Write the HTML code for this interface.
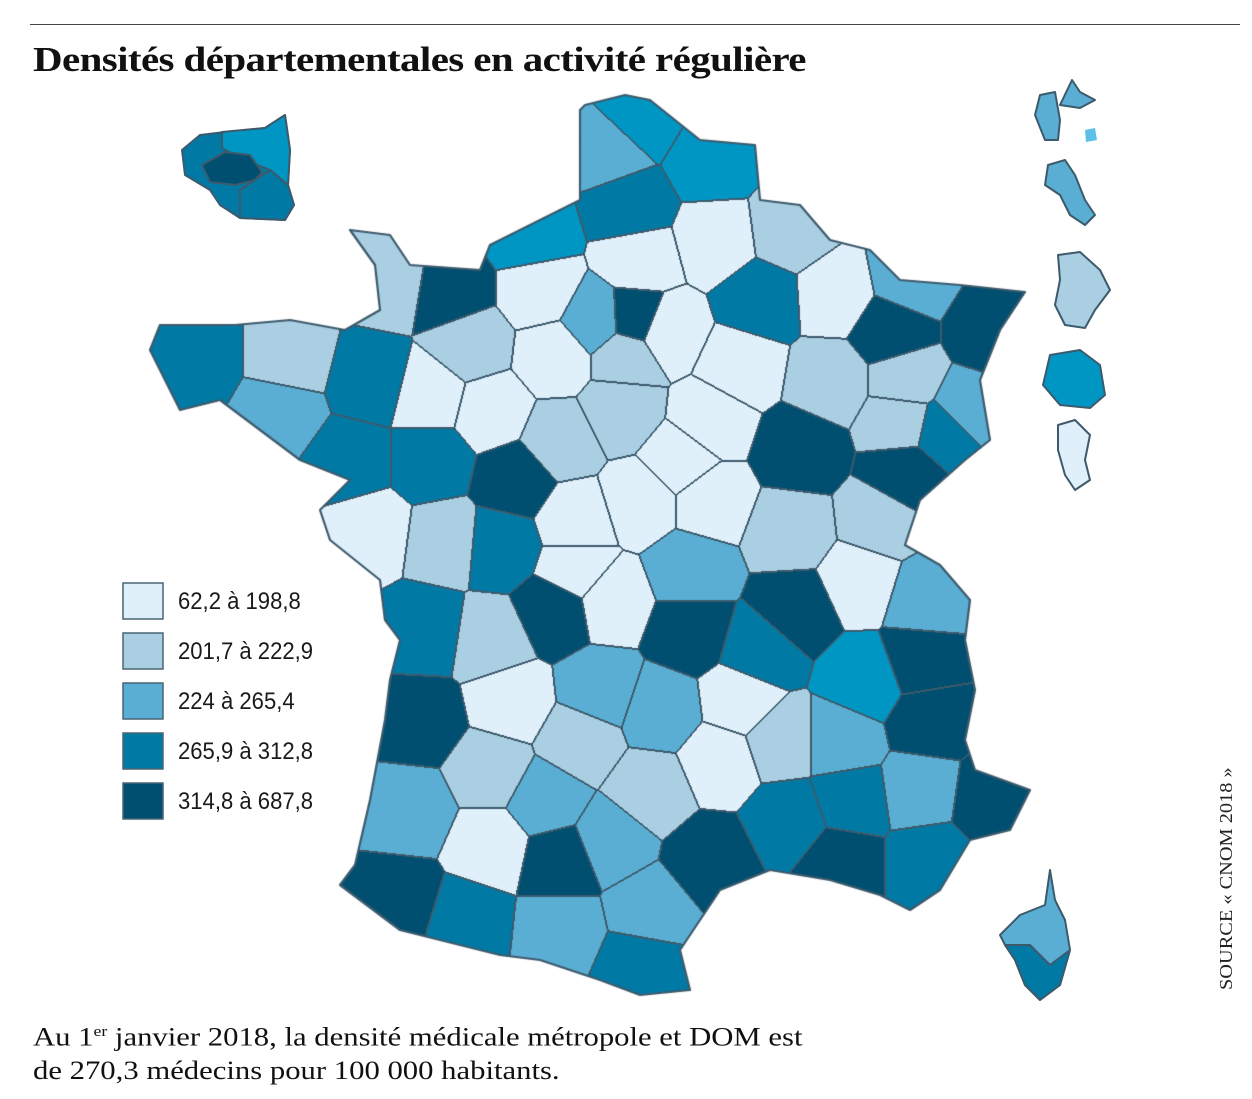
<!DOCTYPE html>
<html><head><meta charset="utf-8"><style>
html,body{margin:0;padding:0;background:#fff;}
body{width:1252px;height:1099px;position:relative;overflow:hidden;}
.rule{position:absolute;left:30px;top:24px;width:1210px;height:1px;background:#444;}
.title{position:absolute;left:33px;top:40px;font-family:"Liberation Serif",serif;font-weight:bold;font-size:35px;color:#111;letter-spacing:-0.5px;transform:scaleX(1.17);transform-origin:0 0;white-space:nowrap;}
.foot{position:absolute;left:33px;top:1016px;font-family:"Liberation Serif",serif;font-size:26px;line-height:33px;color:#111;transform:scaleX(1.18);transform-origin:0 0;white-space:nowrap;}
.src{position:absolute;left:1216px;top:990px;transform:rotate(-90deg) scaleX(1.13);transform-origin:0 0;font-family:"Liberation Serif",serif;font-size:18px;color:#222;white-space:nowrap;}
.lt{position:absolute;left:178px;font-family:"Liberation Sans",sans-serif;font-size:24px;color:#1a1a1a;transform:scaleX(0.92);transform-origin:0 0;white-space:nowrap;}
canvas,svg{position:absolute;left:0;top:0;}
</style></head><body>
<div class="rule"></div>
<div class="title">Densités départementales en activité régulière</div>
<canvas id="c" width="1252" height="1099"></canvas>
<svg width="1252" height="1099" viewBox="0 0 1252 1099">
<g stroke="#3d5a6c" stroke-width="2" stroke-linejoin="round">
<path d="M225,132 L265,128 L285,115 L290,150 L288,185 L294,205 L285,220 L240,218 L220,205 L210,190 L185,175 L182,150 L200,135 Z" fill="#007aa5"/>
<path d="M222,132 L265,128 L285,115 L290,150 L288,185 L270,170 L240,158 L222,148 Z" fill="#0096c3"/>
<path d="M240,190 L270,170 L288,185 L294,205 L285,220 L240,218 Z" fill="#007aa5"/>
<path d="M202,165 L225,152 L250,155 L262,172 L255,180 L235,185 L210,182 Z" fill="#004f70"/>
<path d="M1050,870 L1055,900 L1065,920 L1070,950 L1060,985 L1040,1000 L1025,985 L1015,960 L1005,945 L1000,935 L1020,915 L1045,905 Z" fill="#5aaed3"/>
<path d="M1005,945 L1030,945 L1050,965 L1070,950 L1060,985 L1040,1000 L1025,985 L1015,960 Z" fill="#007aa5"/>
<path d="M1040,95 L1055,92 L1060,120 L1058,140 L1045,140 L1035,115 Z M1060,105 L1072,80 L1080,92 L1095,100 L1080,108 Z" fill="#5aaed3"/>
<path d="M1085,130 L1095,128 L1097,140 L1086,142 Z" fill="#5bc0e8" stroke="none"/>
<path d="M1048,165 L1065,160 L1075,175 L1085,200 L1095,215 L1085,225 L1070,215 L1060,195 L1045,185 Z" fill="#5aaed3"/>
<path d="M1058,255 L1080,252 L1100,270 L1110,290 L1095,310 L1085,328 L1065,325 L1055,305 L1060,280 Z" fill="#aacfe2"/>
<path d="M1050,355 L1080,350 L1100,365 L1105,395 L1090,408 L1060,405 L1043,385 Z" fill="#0096c3"/>
<path d="M1058,425 L1075,420 L1090,435 L1085,460 L1090,480 L1075,490 L1065,475 L1058,450 Z" fill="#e0f0fb"/>
</g>
<g stroke="#4a6575" stroke-width="1.5">
<rect x="123" y="583" width="40" height="36" fill="#e0f0fb"/>
<rect x="123" y="633" width="40" height="36" fill="#aacfe2"/>
<rect x="123" y="683" width="40" height="36" fill="#5aaed3"/>
<rect x="123" y="733" width="40" height="36" fill="#007aa5"/>
<rect x="123" y="783" width="40" height="36" fill="#004f70"/>
</g>
</svg>
<div class="lt" style="top:588px">62,2 à 198,8</div>
<div class="lt" style="top:638px">201,7 à 222,9</div>
<div class="lt" style="top:688px">224 à 265,4</div>
<div class="lt" style="top:738px">265,9 à 312,8</div>
<div class="lt" style="top:788px">314,8 à 687,8</div>
<div class="foot">Au 1<sup style="font-size:15px">er</sup> janvier 2018, la densité médicale métropole et DOM est<br>de 270,3 médecins pour 100 000 habitants.</div>
<div class="src">SOURCE « CNOM 2018 »</div>
<script>
var C=["#e0f0fb","#aacfe2","#5aaed3","#007aa5","#004f70","#0096c3"];
var S=[[610,150,2],[640,118,5],[710,160,5],[630,205,3],[530,235,5],[715,240,0],[640,260,0],[790,230,1],[760,300,3],[835,295,0],[910,280,2],[890,330,4],[990,330,4],[905,380,1],[965,410,2],[390,280,1],[450,290,4],[540,290,0],[470,345,1],[555,355,0],[595,320,2],[635,318,4],[625,355,1],[665,330,0],[740,365,0],[830,380,1],[900,420,1],[945,430,3],[905,475,4],[880,520,1],[800,450,4],[710,420,0],[620,410,1],[560,440,1],[490,410,0],[430,395,0],[370,380,3],[290,360,1],[195,360,3],[280,410,2],[350,460,3],[430,460,3],[515,480,4],[370,530,0],[445,540,1],[500,545,3],[575,520,0],[640,500,0],[710,500,0],[790,530,1],[860,580,0],[925,600,2],[920,660,4],[865,680,5],[795,610,4],[760,650,3],[690,570,2],[610,600,0],[555,610,4],[425,630,3],[490,640,1],[510,700,0],[600,690,2],[690,630,4],[660,710,2],[740,700,0],[780,740,1],[840,740,2],[930,720,4],[920,790,2],[990,800,4],[930,860,3],[850,800,3],[840,860,4],[790,820,3],[710,860,4],[720,760,0],[650,790,1],[580,740,1],[420,720,4],[490,770,1],[545,800,2],[610,840,2],[560,860,4],[490,845,0],[410,810,2],[400,900,4],[465,920,3],[560,930,2],[650,910,2],[640,965,3],[575,570,0],[680,460,0]];
var O=[[585,105],[625,95],[650,100],[700,140],[755,145],[760,200],[800,205],[830,240],[870,250],[900,280],[960,285],[1025,292],[1000,330],[980,380],[990,440],[965,460],[920,500],[905,545],[940,565],[970,600],[965,640],[975,690],[965,740],[975,770],[1030,790],[1010,830],[970,840],[940,890],[910,910],[880,895],[830,880],[770,870],[720,890],[680,950],[690,990],[640,995],[600,980],[540,960],[500,955],[440,940],[400,930],[340,885],[355,865],[370,800],[385,720],[390,680],[400,640],[385,620],[380,580],[330,540],[320,510],[350,480],[300,460],[220,400],[180,410],[150,350],[160,325],[235,325],[290,320],[345,330],[380,310],[375,265],[350,230],[390,235],[410,265],[480,270],[490,245],[580,200],[580,110]];
var cv=document.getElementById('c'),ctx=cv.getContext('2d');
var p=new Path2D();p.moveTo(O[0][0],O[0][1]);for(var i=1;i<O.length;i++)p.lineTo(O[i][0],O[i][1]);p.closePath();
var x0=140,y0=85,W=900,H=920;
var lab=new Int16Array(W*H).fill(-1);
for(var y=0;y<H;y++)for(var x=0;x<W;x++){var X=x+x0,Y=y+y0;if(!ctx.isPointInPath(p,X,Y))continue;var b=1e9,bi=0;for(var k=0;k<S.length;k++){var dx=X-S[k][0],dy=Y-S[k][1],d=dx*dx+dy*dy;if(d<b){b=d;bi=k;}}lab[y*W+x]=bi;}
var img=ctx.createImageData(W,H),dt=img.data;
function hx(h){return[parseInt(h.substr(1,2),16),parseInt(h.substr(3,2),16),parseInt(h.substr(5,2),16)];}
var CC=C.map(hx),BC=[61,90,108];
for(var y=0;y<H;y++)for(var x=0;x<W;x++){var l=lab[y*W+x];if(l<0)continue;var o=(y*W+x)*4,c=CC[S[l][2]];
var bd=(x+1<W&&lab[y*W+x+1]>=0&&lab[y*W+x+1]!=l)||(y+1<H&&lab[(y+1)*W+x]>=0&&lab[(y+1)*W+x]!=l)||(x>0&&lab[y*W+x-1]>=0&&lab[y*W+x-1]!=l)||(y>0&&lab[(y-1)*W+x]>=0&&lab[(y-1)*W+x]!=l);
if(bd)c=BC;dt[o]=c[0];dt[o+1]=c[1];dt[o+2]=c[2];dt[o+3]=255;}
ctx.putImageData(img,x0,y0);
ctx.strokeStyle="#3d5a6c";ctx.lineWidth=2.2;ctx.lineJoin="round";ctx.stroke(p);
</script>
</body></html>
